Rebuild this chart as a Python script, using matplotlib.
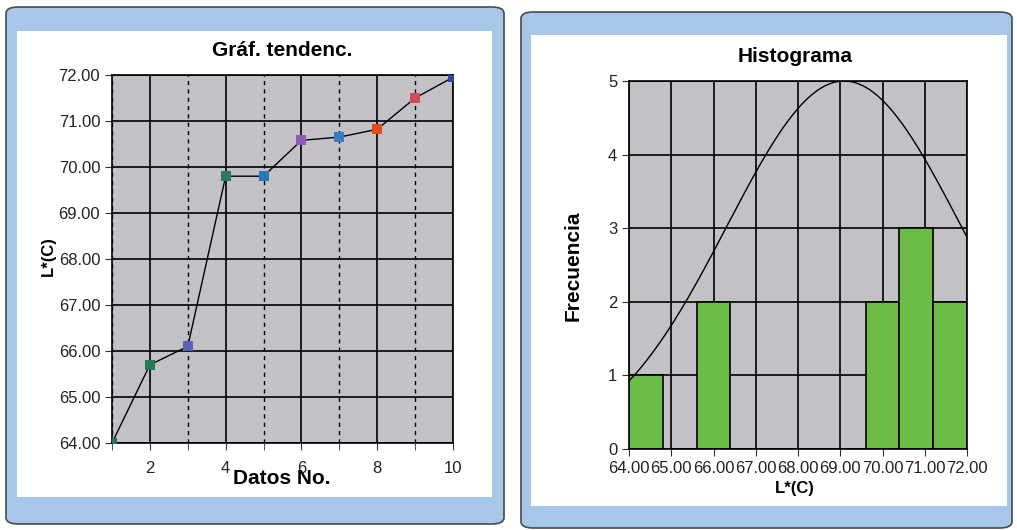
import numpy as np
import matplotlib
matplotlib.use("Agg")
import matplotlib.pyplot as plt
from matplotlib.patches import FancyBboxPatch
from matplotlib.ticker import MultipleLocator, FixedLocator

plt.rcParams["font.family"] = ["Liberation Sans", "DejaVu Sans"]

# ===============================
# DATA
# ===============================
datos_no = [1, 2, 3, 4, 5, 6, 7, 8, 9, 10]
l_values = [64.00, 65.70, 66.10, 69.80, 69.80, 70.58, 70.65, 70.82, 71.50, 71.95]
marker_colors = ["#2a6e4e", "#1f7a55", "#5a62b4", "#2a7a60", "#2a78b4",
                 "#8a5cb4", "#3a7cc4", "#e24a1e", "#d24c52", "#33449a"]

bin_edges = [64.0, 64.8, 65.6, 66.4, 67.2, 68.0, 68.8, 69.6, 70.4, 71.2, 72.0]
bin_counts = [1, 0, 2, 0, 0, 0, 0, 2, 3, 2]
curve_peak = 5.0

GRAY = "#c3c1c6"
PANEL = "#a7c7e8"
GREEN = "#6bbd45"

W, H = 1017, 530
fig = plt.figure(figsize=(W / 100, H / 100), dpi=100)


def px(x0, y0, x1, y1):
    # pixel box (top-left origin) -> figure fraction rect
    return [x0 / W, 1 - y1 / H, (x1 - x0) / W, (y1 - y0) / H]


def panel(x0, y0, x1, y1, ix0, iy0, ix1, iy1):
    r = px(x0, y0, x1, y1)
    fig.patches.append(FancyBboxPatch((r[0], r[1]), r[2], r[3],
                                      boxstyle="round,pad=0,rounding_size=0.012",
                                      transform=fig.transFigure, facecolor=PANEL,
                                      edgecolor="#4a4a4a", linewidth=1.2, zorder=-2))
    r = px(ix0, iy0, ix1, iy1)
    fig.patches.append(plt.Rectangle((r[0], r[1]), r[2], r[3],
                                     transform=fig.transFigure, facecolor="white",
                                     edgecolor="none", zorder=-1))


panel(6, 7, 504, 524, 17, 31, 492, 497)
panel(521, 12, 1012, 528, 531, 35, 1007, 506)

# ===============================
# TREND CHART
# ===============================
ax1 = fig.add_axes(px(112, 75, 453, 443))
ax1.set_facecolor(GRAY)
ax1.set_xlim(1, 10)
ax1.set_ylim(64, 72)
ax1.xaxis.set_major_locator(FixedLocator([2, 4, 6, 8, 10]))
ax1.xaxis.set_minor_locator(FixedLocator([1, 3, 5, 7, 9]))
ax1.yaxis.set_major_locator(MultipleLocator(1))
ax1.yaxis.set_major_formatter(lambda v, p: f"{v:.2f}")
ax1.grid(True, which="major", color="black", linewidth=1.2)
ax1.grid(True, which="minor", axis="x", color="black", linewidth=1.0, linestyle=(0, (3, 3)))
ax1.set_axisbelow(True)
ax1.tick_params(which="both", direction="out", length=5, color="#333333",
                labelsize=12, labelcolor="#222222")
ax1.tick_params(axis="x", pad=8)
for s in ax1.spines.values():
    s.set_color("black")
    s.set_linewidth(1.2)

ax1.plot(datos_no, l_values, color="black", linewidth=1.0, zorder=3)
for x, y, c in zip(datos_no, l_values, marker_colors):
    ax1.plot(x, y, marker="s", markersize=6.5, color=c, markeredgewidth=0, zorder=4)

fig.text(282 / W, 1 - 50 / H, "Gráf. tendenc.", ha="center", va="center",
         fontsize=15, fontweight="bold")
fig.text(282 / W, 1 - 479 / H, "Datos No.", ha="center", va="center",
         fontsize=15, fontweight="bold")
fig.text(48 / W, 1 - 256 / H, "L*(C)", ha="center", va="center",
         fontsize=12, fontweight="bold", rotation=90)

# ===============================
# HISTOGRAM
# ===============================
ax2 = fig.add_axes(px(629, 81, 967, 449))
ax2.set_facecolor(GRAY)
ax2.set_xlim(64, 72)
ax2.set_ylim(0, 5)
ax2.xaxis.set_major_locator(MultipleLocator(1))
ax2.xaxis.set_major_formatter(lambda v, p: f"{v:.2f}")
ax2.yaxis.set_major_locator(MultipleLocator(1))
ax2.grid(True, color="black", linewidth=1.2)
ax2.set_axisbelow(True)
ax2.tick_params(direction="out", length=5, color="#333333",
                labelsize=12, labelcolor="#222222")
for s in ax2.spines.values():
    s.set_color("black")
    s.set_linewidth(1.2)

widths = np.diff(bin_edges)
ax2.bar(bin_edges[:-1], bin_counts, width=widths, align="edge",
        color=GREEN, edgecolor="black", linewidth=1.2, zorder=2)

# normal curve fitted to the data, scaled to the axis top
mu = np.mean(l_values)
sd = np.std(l_values, ddof=1)
xs = np.linspace(64, 72, 300)
ax2.plot(xs, curve_peak * np.exp(-0.5 * ((xs - mu) / sd) ** 2),
         color="black", linewidth=1.0, zorder=3)

fig.text(795 / W, 1 - 57 / H, "Histograma", ha="center", va="center",
         fontsize=15, fontweight="bold")
fig.text(795 / W, 1 - 489 / H, "L*(C)", ha="center", va="center",
         fontsize=12, fontweight="bold")
fig.text(573 / W, 1 - 266 / H, "Frecuencia", ha="center", va="center",
         fontsize=15, fontweight="bold", rotation=90)

fig.savefig("out.png", dpi=100)
